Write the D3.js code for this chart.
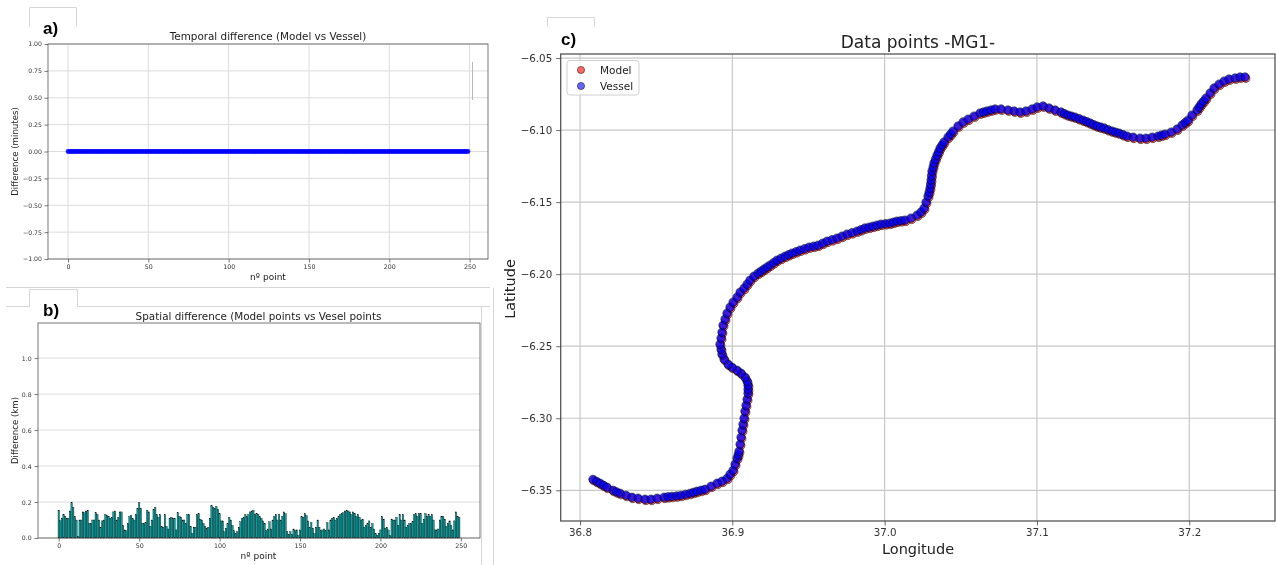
<!DOCTYPE html>
<html>
<head>
<meta charset="utf-8">
<script src="https://cdn.jsdelivr.net/npm/d3@7"></script>
<style>
  body { margin: 0; background: #fff; }
  svg { display: block; font-family: "DejaVu Sans", sans-serif; will-change: transform; }
</style>
</head>
<body>
<svg id="fig" width="1276" height="565"></svg>
<script>
// ---- panel a: temporal difference per point (minutes)
const timeDiff = [
  0,0,0,0,0,0,0,0,0,0, 0,0,0,0,0,0,0,0,0,0, 0,0,0,0,0,0,0,0,0,0, 0,0,0,0,0,0,0,0,0,0, 0,0,0,0,0,0,0,0,0,0,
  0,0,0,0,0,0,0,0,0,0, 0,0,0,0,0,0,0,0,0,0, 0,0,0,0,0,0,0,0,0,0, 0,0,0,0,0,0,0,0,0,0, 0,0,0,0,0,0,0,0,0,0,
  0,0,0,0,0,0,0,0,0,0, 0,0,0,0,0,0,0,0,0,0, 0,0,0,0,0,0,0,0,0,0, 0,0,0,0,0,0,0,0,0,0, 0,0,0,0,0,0,0,0,0,0,
  0,0,0,0,0,0,0,0,0,0, 0,0,0,0,0,0,0,0,0,0, 0,0,0,0,0,0,0,0,0,0, 0,0,0,0,0,0,0,0,0,0, 0,0,0,0,0,0,0,0,0,0,
  0,0,0,0,0,0,0,0,0,0, 0,0,0,0,0,0,0,0,0,0, 0,0,0,0,0,0,0,0,0,0, 0,0,0,0,0,0,0,0,0,0, 0,0,0,0,0,0,0,0,0,0
];
const timeTicksX = [0, 50, 100, 150, 200, 250];
const timeTicksY = [1, 0.75, 0.5, 0.25, 0, -0.25, -0.5, -0.75, -1];

// ---- panel b: spatial difference per point (km)
const spaceDiff = [
  .155,.096,.11,.13,.12,.11,.11,.15,.196,.17,
  .12,.10,.01,.10,.10,.145,.14,.15,.155,.08,
  .08,.10,.10,.14,.13,.10,.06,.095,.10,.13,.125,
  .12,.11,.115,.145,.15,.10,.115,.145,.145,.07,
  .045,.04,.08,.12,.125,.11,.10,.13,.165,.196,
  .165,.08,.08,.085,.155,.145,.065,.10,.16,.17,
  .13,.115,.13,.065,.06,.13,.065,.05,.11,.115,.11,
  .11,.045,.14,.12,.115,.10,.10,.08,.13,.13,
  .065,.025,.06,.06,.13,.135,.105,.10,.08,.065,
  .055,.06,.11,.18,.17,.165,.175,.16,.135,.095,
  .095,.035,.055,.08,.115,.10,.07,.04,.025,.035,.06,
  .09,
  .11,.115,.13,.12,.13,.145,.15,.155,.13,.135,
  .13,.12,.11,.095,.08,.04,.05,.09,.05,.10,
  .12,.13,.10,.13,.10,.12,.145,.135,.035,.02,.035,
  .02,.05,.04,.045,.015,.045,.12,.115,.135,.125,
  .095,.06,.085,.055,.025,.06,.10,.06,.04,.045,
  .05,.04,.085,.045,.10,.11,.115,.10,.11,.12,.13,
  .135,.14,.15,.155,.15,.145,.13,.145,.135,.12,
  .13,.115,.10,.105,.06,.07,.08,.095,.06,.08,.05,
  .025,.015,.025,.045,.12,.105,.055,.06,.045,.015,
  .105,.10,.10,.115,.07,.13,.10,.13,.10,.06,
  .07,.08,.08,.09,.13,.135,.12,.135,.135,.08,.105,
  .135,.12,.13,.12,.13,.10,.045,.045,.05,.10,
  .12,.12,.105,.065,.08,.095,.07,.045,.095,.145,.12,
  .115
];
const spaceTicksX = [0, 50, 100, 150, 200, 250];
const spaceTicksY = [0, 0.2, 0.4, 0.6, 0.8, 1.0];

// ---- panel c: track positions
const vesselLon = [
  36.8085,36.8108,36.8131,36.8154,36.8177,36.8217,36.8240,36.8263,36.8302,36.8341,
  36.8381,36.8427,36.8466,36.8506,36.8552,36.8578,36.8604,36.8634,36.8663,36.8693,
  36.8722,36.8745,36.8768,36.8795,36.8821,36.8860,36.8900,36.8932,36.8965,36.8985,
  36.9005,36.9018,36.9031,36.9038,36.9044,36.9051,36.9057,36.9064,36.9070,36.9077,
  36.9083,36.9090,36.9097,36.9103,36.9103,36.9103,36.9097,36.9083,36.9057,36.9031,
  36.8998,36.8972,36.8946,36.8932,36.8926,36.8919,36.8926,36.8932,36.8939,36.8952,
  36.8965,36.8985,36.9005,36.9031,36.9051,36.9077,36.9097,36.9116,36.9142,36.9169,
  36.9189,36.9208,36.9228,36.9248,36.9271,36.9293,36.9320,36.9346,36.9369,36.9392,
  36.9419,36.9445,36.9475,36.9504,36.9534,36.9563,36.9593,36.9622,36.9655,36.9687,
  36.9720,36.9753,36.9786,36.9819,36.9845,36.9871,36.9898,36.9924,36.9950,36.9976,
  37.0006,37.0035,37.0058,37.0081,37.0108,37.0134,37.0173,37.0213,37.0239,37.0259,
  37.0272,37.0285,37.0292,37.0298,37.0302,37.0305,37.0308,37.0311,37.0318,37.0324,
  37.0334,37.0344,37.0354,37.0364,37.0377,37.0390,37.0416,37.0433,37.0449,37.0482,
  37.0515,37.0548,37.0587,37.0626,37.0649,37.0672,37.0699,37.0725,37.0764,37.0810,
  37.0850,37.0889,37.0928,37.0968,37.1001,37.1040,37.1079,37.1119,37.1158,37.1181,
  37.1204,37.1227,37.1250,37.1277,37.1303,37.1326,37.1349,37.1372,37.1395,37.1418,
  37.1441,37.1467,37.1493,37.1516,37.1539,37.1566,37.1592,37.1631,37.1677,37.1716,
  37.1756,37.1795,37.1818,37.1841,37.1881,37.1920,37.1953,37.1973,37.1992,37.2018,
  37.2051,37.2065,37.2078,37.2094,37.2110,37.2137,37.2163,37.2196,37.2229,37.2261,
  37.2301,37.2334,37.2366
];
const vesselLat = [
  -6.3424,-6.3438,-6.3451,-6.3465,-6.3479,-6.3500,-6.3511,-6.3521,-6.3535,-6.3548,
  -6.3555,-6.3562,-6.3562,-6.3555,-6.3548,-6.3545,-6.3542,-6.3539,-6.3535,-6.3528,
  -6.3521,-6.3514,-6.3507,-6.3500,-6.3493,-6.3472,-6.3451,-6.3437,-6.3417,-6.3389,
  -6.3361,-6.3319,-6.3278,-6.3254,-6.3229,-6.3180,-6.3132,-6.3083,-6.3042,-6.3000,
  -6.2951,-6.2910,-6.2868,-6.2826,-6.2799,-6.2771,-6.2743,-6.2715,-6.2687,-6.2667,
  -6.2646,-6.2625,-6.2590,-6.2555,-6.2521,-6.2486,-6.2444,-6.2403,-6.2354,-6.2312,
  -6.2271,-6.2229,-6.2194,-6.2160,-6.2125,-6.2097,-6.2069,-6.2042,-6.2014,-6.1993,
  -6.1979,-6.1965,-6.1951,-6.1937,-6.1920,-6.1903,-6.1889,-6.1875,-6.1865,-6.1854,
  -6.1844,-6.1833,-6.1823,-6.1812,-6.1806,-6.1799,-6.1785,-6.1771,-6.1761,-6.1750,
  -6.1736,-6.1722,-6.1712,-6.1701,-6.1691,-6.1680,-6.1674,-6.1667,-6.1660,-6.1653,
  -6.1650,-6.1646,-6.1639,-6.1632,-6.1629,-6.1625,-6.1611,-6.1590,-6.1569,-6.1542,
  -6.1500,-6.1458,-6.1431,-6.1403,-6.1375,-6.1347,-6.1316,-6.1285,-6.1257,-6.1229,
  -6.1202,-6.1174,-6.1150,-6.1125,-6.1104,-6.1083,-6.1049,-6.1028,-6.1007,-6.0972,
  -6.0944,-6.0924,-6.0903,-6.0882,-6.0875,-6.0868,-6.0861,-6.0854,-6.0854,-6.0861,
  -6.0868,-6.0875,-6.0868,-6.0854,-6.0840,-6.0833,-6.0847,-6.0861,-6.0875,-6.0886,
  -6.0896,-6.0903,-6.0910,-6.0921,-6.0931,-6.0941,-6.0951,-6.0962,-6.0972,-6.0979,
  -6.0986,-6.0997,-6.1007,-6.1014,-6.1021,-6.1032,-6.1042,-6.1049,-6.1056,-6.1056,
  -6.1049,-6.1042,-6.1035,-6.1028,-6.1014,-6.0993,-6.0965,-6.0948,-6.0931,-6.0896,
  -6.0861,-6.0840,-6.0819,-6.0799,-6.0778,-6.0743,-6.0708,-6.0681,-6.0660,-6.0646,
  -6.0639,-6.0632,-6.0632
];
const modelLon = [
  36.8090,36.8113,36.8136,36.8159,36.8182,36.8222,36.8245,36.8268,36.8307,36.8346,
  36.8386,36.8432,36.8471,36.8511,36.8557,36.8583,36.8609,36.8639,36.8668,36.8698,
  36.8727,36.8750,36.8773,36.8800,36.8826,36.8865,36.8905,36.8937,36.8970,36.8990,
  36.9010,36.9023,36.9036,36.9043,36.9049,36.9056,36.9062,36.9069,36.9075,36.9082,
  36.9088,36.9095,36.9102,36.9108,36.9108,36.9108,36.9102,36.9088,36.9062,36.9036,
  36.9003,36.8977,36.8951,36.8937,36.8931,36.8924,36.8931,36.8937,36.8944,36.8957,
  36.8970,36.8990,36.9010,36.9036,36.9056,36.9082,36.9102,36.9121,36.9147,36.9174,
  36.9194,36.9213,36.9233,36.9253,36.9276,36.9298,36.9325,36.9351,36.9374,36.9397,
  36.9424,36.9450,36.9480,36.9509,36.9539,36.9568,36.9598,36.9627,36.9660,36.9692,
  36.9725,36.9758,36.9791,36.9824,36.9850,36.9876,36.9903,36.9929,36.9955,36.9981,
  37.0011,37.0040,37.0063,37.0086,37.0113,37.0139,37.0178,37.0218,37.0244,37.0264,
  37.0277,37.0290,37.0297,37.0303,37.0307,37.0310,37.0313,37.0316,37.0323,37.0329,
  37.0339,37.0349,37.0359,37.0369,37.0382,37.0395,37.0421,37.0438,37.0454,37.0487,
  37.0520,37.0553,37.0592,37.0631,37.0654,37.0677,37.0704,37.0730,37.0769,37.0815,
  37.0855,37.0894,37.0933,37.0973,37.1006,37.1045,37.1084,37.1124,37.1163,37.1186,
  37.1209,37.1232,37.1255,37.1282,37.1308,37.1331,37.1354,37.1377,37.1400,37.1423,
  37.1446,37.1472,37.1498,37.1521,37.1544,37.1571,37.1597,37.1636,37.1682,37.1721,
  37.1761,37.1800,37.1823,37.1846,37.1886,37.1925,37.1958,37.1978,37.1997,37.2023,
  37.2056,37.2070,37.2083,37.2099,37.2115,37.2142,37.2168,37.2201,37.2234,37.2266,
  37.2306,37.2339,37.2371
];
const modelLat = [
  -6.3433,-6.3447,-6.3460,-6.3474,-6.3488,-6.3509,-6.3520,-6.3530,-6.3544,-6.3557,
  -6.3564,-6.3571,-6.3571,-6.3564,-6.3557,-6.3554,-6.3551,-6.3548,-6.3544,-6.3537,
  -6.3530,-6.3523,-6.3516,-6.3509,-6.3502,-6.3481,-6.3460,-6.3446,-6.3426,-6.3398,
  -6.3370,-6.3328,-6.3287,-6.3263,-6.3238,-6.3189,-6.3141,-6.3092,-6.3051,-6.3009,
  -6.2960,-6.2919,-6.2877,-6.2835,-6.2808,-6.2780,-6.2752,-6.2724,-6.2696,-6.2676,
  -6.2655,-6.2634,-6.2599,-6.2564,-6.2530,-6.2495,-6.2453,-6.2412,-6.2363,-6.2321,
  -6.2280,-6.2238,-6.2203,-6.2169,-6.2134,-6.2106,-6.2078,-6.2051,-6.2023,-6.2002,
  -6.1988,-6.1974,-6.1960,-6.1946,-6.1929,-6.1912,-6.1898,-6.1884,-6.1874,-6.1863,
  -6.1853,-6.1842,-6.1832,-6.1821,-6.1815,-6.1808,-6.1794,-6.1780,-6.1770,-6.1759,
  -6.1745,-6.1731,-6.1721,-6.1710,-6.1700,-6.1689,-6.1683,-6.1676,-6.1669,-6.1662,
  -6.1659,-6.1655,-6.1648,-6.1641,-6.1638,-6.1634,-6.1620,-6.1599,-6.1578,-6.1551,
  -6.1509,-6.1467,-6.1440,-6.1412,-6.1384,-6.1356,-6.1325,-6.1294,-6.1266,-6.1238,
  -6.1211,-6.1183,-6.1159,-6.1134,-6.1113,-6.1092,-6.1058,-6.1037,-6.1016,-6.0981,
  -6.0953,-6.0933,-6.0912,-6.0891,-6.0884,-6.0877,-6.0870,-6.0863,-6.0863,-6.0870,
  -6.0877,-6.0884,-6.0877,-6.0863,-6.0849,-6.0842,-6.0856,-6.0870,-6.0884,-6.0895,
  -6.0905,-6.0912,-6.0919,-6.0930,-6.0940,-6.0950,-6.0960,-6.0971,-6.0981,-6.0988,
  -6.0995,-6.1006,-6.1016,-6.1023,-6.1030,-6.1041,-6.1051,-6.1058,-6.1065,-6.1065,
  -6.1058,-6.1051,-6.1044,-6.1037,-6.1023,-6.1002,-6.0974,-6.0957,-6.0940,-6.0905,
  -6.0870,-6.0849,-6.0828,-6.0808,-6.0787,-6.0752,-6.0717,-6.0690,-6.0669,-6.0655,
  -6.0648,-6.0641,-6.0641
];
const lonTicks = [36.8, 36.9, 37.0, 37.1, 37.2];
const latTicks = [-6.05, -6.10, -6.15, -6.20, -6.25, -6.30, -6.35];
const legendNames = ["Model", "Vessel"];

const svg = d3.select("#fig");
const frameColor = "#d6d6d6";

// light frames / tabs around the pasted panels
function frame(d) {
    svg.append("path").attr("d", d).attr("fill", "none")
        .attr("stroke", frameColor).attr("stroke-width", 1);
}
frame("M29.5,27 V7.5 H76.5 V27");
frame("M6,287.5 H490");
frame("M6,306.5 H29.5 V289.5 H77.5 V306.5 H490");
frame("M481.5,306.5 V565");
frame("M547.5,27 V17.5 H594.5 V27");
frame("M493.5,288 V565");

function panelLetter(x, y, t) {
    svg.append("text").attr("x", x).attr("y", y).text(t)
        .attr("font-family", "Liberation Sans, Arial, sans-serif")
        .attr("font-weight", "bold").attr("font-size", 17).attr("fill", "#000");
}

function styleTicks(g, size, tickColor) {
    g.select(".domain").remove();
    g.selectAll(".tick line").attr("stroke", tickColor).attr("stroke-width", 0.8);
    g.selectAll(".tick text").attr("font-size", size).attr("fill", "#333")
        .attr("font-family", "DejaVu Sans, sans-serif");
}

function gridLines(g, xs, ys, x, y, color, w) {
    const [x0, x1] = x.range();
    const [y0, y1] = y.range();
    g.selectAll("line.gx").data(xs).join("line").attr("class", "gx")
        .attr("x1", d => x(d)).attr("x2", d => x(d)).attr("y1", y0).attr("y2", y1)
        .attr("stroke", color).attr("stroke-width", w);
    g.selectAll("line.gy").data(ys).join("line").attr("class", "gy")
        .attr("x1", x0).attr("x2", x1).attr("y1", d => y(d)).attr("y2", d => y(d))
        .attr("stroke", color).attr("stroke-width", w);
}

// ================= panel a =================
const ax = d3.scaleLinear().domain([-12.45, 261.45]).range([48, 488]);
const ay = d3.scaleLinear().domain([-1, 1]).range([259, 44]);

gridLines(svg.append("g"), timeTicksX, timeTicksY, ax, ay, "#dcdcdc", 1);

svg.append("line").attr("x1", 472.5).attr("x2", 472.5).attr("y1", 62).attr("y2", 100)
    .attr("stroke", "#b8b8b8").attr("stroke-width", 1);

svg.append("g").selectAll("circle").data(timeDiff).join("circle")
    .attr("cx", (d, i) => ax(i)).attr("cy", d => ay(d)).attr("r", 2.4)
    .attr("fill", "#0000ff").attr("fill-opacity", 0.85);

svg.append("rect").attr("x", 48).attr("y", 44).attr("width", 440).attr("height", 215)
    .attr("fill", "none").attr("stroke", "#555").attr("stroke-width", 0.8);

svg.append("g").attr("transform", "translate(48,0)")
    .call(d3.axisLeft(ay).tickValues(timeTicksY).tickFormat(d3.format(".2f")).tickSize(3.5).tickPadding(2.5))
    .call(g => styleTicks(g, 6.2, "#555"));
svg.append("g").attr("transform", "translate(0,259)")
    .call(d3.axisBottom(ax).tickValues(timeTicksX).tickFormat(d3.format("d")).tickSize(3.5).tickPadding(2))
    .call(g => styleTicks(g, 6.3, "#555"));

svg.append("text").attr("x", 268).attr("y", 40).attr("text-anchor", "middle")
    .attr("font-size", 10.4).attr("fill", "#222").text("Temporal difference (Model vs Vessel)");
svg.append("text").attr("x", 268).attr("y", 280).attr("text-anchor", "middle")
    .attr("font-size", 9).attr("fill", "#222").text("nº point");
svg.append("text").attr("transform", "translate(18.3,151.5) rotate(-90)").attr("text-anchor", "middle")
    .attr("font-size", 8.6).attr("fill", "#222").text("Difference (minutes)");
panelLetter(43, 34, "a)");

// ================= panel b =================
const bx = d3.scaleLinear().domain([-12.9, 261.9]).range([38, 480]);
const by = d3.scaleLinear().domain([0, 1.195]).range([538, 323]);

gridLines(svg.append("g"), [], spaceTicksY, bx, by, "#dcdcdc", 1);

const barW = bx(0.9) - bx(0);
svg.append("g").selectAll("rect").data(spaceDiff).join("rect")
    .attr("x", (d, i) => bx(i - 0.45)).attr("width", barW)
    .attr("y", d => by(d)).attr("height", d => by(0) - by(d))
    .attr("fill", "#00a3a3").attr("stroke", "#000").attr("stroke-width", 0.35);

svg.append("rect").attr("x", 38).attr("y", 323).attr("width", 442).attr("height", 215)
    .attr("fill", "none").attr("stroke", "#555").attr("stroke-width", 0.8);

svg.append("g").attr("transform", "translate(38,0)")
    .call(d3.axisLeft(by).tickValues(spaceTicksY).tickFormat(d3.format(".1f")).tickSize(3.5).tickPadding(2.8))
    .call(g => styleTicks(g, 6.2, "#555"));
svg.append("g").attr("transform", "translate(0,538)")
    .call(d3.axisBottom(bx).tickValues(spaceTicksX).tickFormat(d3.format("d")).tickSize(3.5).tickPadding(2))
    .call(g => styleTicks(g, 6.3, "#555"));

svg.append("text").attr("x", 258.5).attr("y", 320).attr("text-anchor", "middle")
    .attr("font-size", 10.4).attr("fill", "#222").text("Spatial difference (Model points vs Vesel points");
svg.append("text").attr("x", 258.5).attr("y", 559).attr("text-anchor", "middle")
    .attr("font-size", 9).attr("fill", "#222").text("nº point");
svg.append("text").attr("transform", "translate(18,430.5) rotate(-90)").attr("text-anchor", "middle")
    .attr("font-size", 8.6).attr("fill", "#222").text("Difference (km)");
panelLetter(43, 316, "b)");

// ================= panel c =================
const cx = d3.scaleLinear().domain([36.7873, 37.2563]).range([560.7, 1275]);
const cy = d3.scaleLinear().domain([-6.3713, -6.0472]).range([521, 54]);

gridLines(svg.append("g"), lonTicks, latTicks, cx, cy, "#c8c8c8", 1.2);

const model = modelLon.map((d, i) => ({ lon: d, lat: modelLat[i] }));
const vessel = vesselLon.map((d, i) => ({ lon: d, lat: vesselLat[i] }));

svg.append("g").selectAll("circle").data(model).join("circle")
    .attr("cx", d => cx(d.lon)).attr("cy", d => cy(d.lat)).attr("r", 4.2)
    .attr("fill", "red").attr("fill-opacity", 0.6)
    .attr("stroke", "#000").attr("stroke-opacity", 0.6).attr("stroke-width", 0.8);
svg.append("g").selectAll("circle").data(vessel).join("circle")
    .attr("cx", d => cx(d.lon)).attr("cy", d => cy(d.lat)).attr("r", 4.2)
    .attr("fill", "blue").attr("fill-opacity", 0.75)
    .attr("stroke", "#000").attr("stroke-opacity", 0.7).attr("stroke-width", 0.8);

svg.append("rect").attr("x", 560.7).attr("y", 54).attr("width", 1275 - 560.7).attr("height", 467)
    .attr("fill", "none").attr("stroke", "#555").attr("stroke-width", 1.3);

svg.append("g").attr("transform", "translate(560.7,0)")
    .call(d3.axisLeft(cy).tickValues(latTicks).tickFormat(d3.format(".2f")).tickSize(4.5).tickPadding(4))
    .call(g => styleTicks(g, 10.3, "#444"));
svg.append("g").attr("transform", "translate(0,521)")
    .call(d3.axisBottom(cx).tickValues(lonTicks).tickFormat(d3.format(".1f")).tickSize(4.5).tickPadding(3))
    .call(g => styleTicks(g, 10.3, "#444"));

svg.append("text").attr("x", 918).attr("y", 48).attr("text-anchor", "middle")
    .attr("font-size", 17).attr("fill", "#222").text("Data points -MG1-");
svg.append("text").attr("x", 918).attr("y", 554).attr("text-anchor", "middle")
    .attr("font-size", 14.5).attr("fill", "#222").text("Longitude");
svg.append("text").attr("transform", "translate(515,289) rotate(-90)").attr("text-anchor", "middle")
    .attr("font-size", 14.5).attr("fill", "#222").text("Latitude");
panelLetter(561, 45, "c)");

// legend
const leg = svg.append("g");
leg.append("rect").attr("x", 567).attr("y", 60.5).attr("width", 72).attr("height", 34.5).attr("rx", 3)
    .attr("fill", "#fff").attr("fill-opacity", 0.8).attr("stroke", "#d0d0d0").attr("stroke-width", 1);
leg.selectAll("circle").data(legendNames).join("circle")
    .attr("cx", 581).attr("cy", (d, i) => 70 + i * 16).attr("r", 3.6)
    .attr("fill", (d, i) => i === 0 ? "red" : "blue").attr("fill-opacity", 0.6)
    .attr("stroke", "#000").attr("stroke-opacity", 0.6).attr("stroke-width", 0.8);
leg.selectAll("text").data(legendNames).join("text")
    .attr("x", 600).attr("y", (d, i) => 73.5 + i * 16).text(d => d)
    .attr("font-size", 10.5).attr("fill", "#222");
</script>
</body>
</html>
